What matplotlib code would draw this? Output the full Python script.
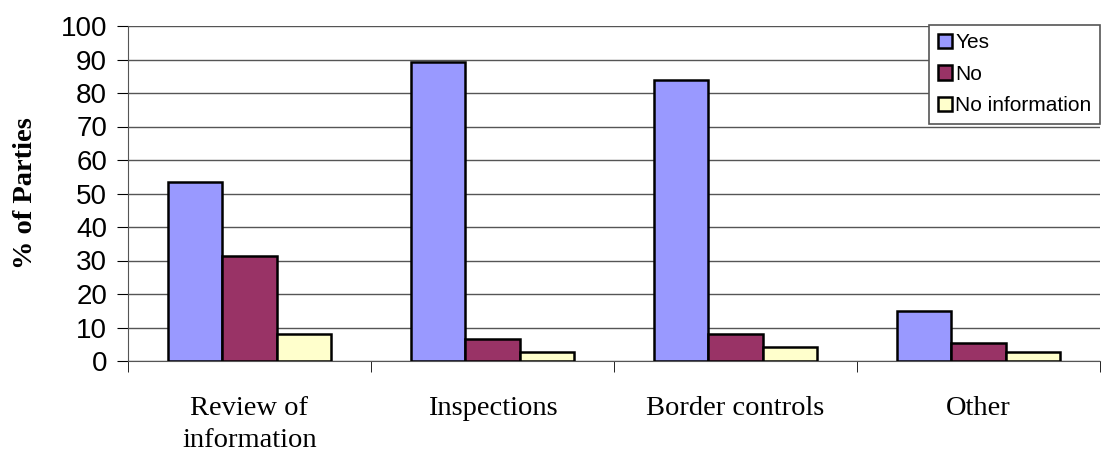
import matplotlib.pyplot as plt
import numpy as np

categories = ["Review of\ninformation", "Inspections", "Border controls", "Other"]
series_names = ["Yes", "No", "No information"]
yes = [53.3, 89.2, 83.8, 14.9]
no = [31.3, 6.7, 8.1, 5.5]
no_info = [8.1, 2.6, 4.1, 2.7]
colors = ["#9999FF", "#993366", "#FFFFCC"]

fig = plt.figure(figsize=(11.07, 4.54), dpi=100)
ax = fig.add_axes([128 / 1107, 93 / 454, (1100 - 128) / 1107, 335 / 454])

x = np.arange(len(categories))
w = 0.223
for k, (vals, name) in enumerate(zip([yes, no, no_info], series_names)):
    ax.bar(x + (k - 1) * w, vals, w, color=colors[k], edgecolor="black",
           linewidth=1.8, label=name, zorder=3)

ax.set_ylim(0, 100)
ax.set_xlim(-0.5, (1100 - 128) / 249 - 0.5)
ax.set_yticks(range(0, 101, 10))
ax.tick_params(axis="y", labelsize=20, length=8, direction="out", pad=7)
for t in ax.get_yticklabels():
    t.set_family("Liberation Sans")
ax.set_xticks(x)
ax.set_xticklabels(categories, family="Liberation Serif", fontsize=20.5,
                   linespacing=1.4)
ax.tick_params(axis="x", length=0, pad=25)
# boundary ticks between categories
ax.set_xticks(np.arange(len(categories) + 1) - 0.5, minor=True)
ax.tick_params(axis="x", which="minor", length=8, direction="out")

ax.grid(axis="y", color="#555555", linewidth=1.0, zorder=0)
for s in ["top", "right"]:
    ax.spines[s].set_visible(False)
ax.spines["left"].set_color("#555555")
ax.spines["bottom"].set_color("#555555")

ax.set_ylabel("% of Parties", family="Liberation Serif", fontweight="bold",
              fontsize=20.5)
ax.yaxis.set_label_coords(-0.093, 0.5)

leg = ax.legend(loc="upper right", bbox_to_anchor=(1100 / 1107, 1 - 25 / 454),
                bbox_transform=fig.transFigure, prop={"family": "Liberation Sans", "size": 15},
                fancybox=False, edgecolor="#555555", framealpha=1,
                handlelength=0.7, handleheight=0.7, handletextpad=0.15,
                labelspacing=0.6, borderpad=0.4, borderaxespad=0)
leg.get_frame().set_linewidth(1.2)

fig.savefig("out.png", dpi=100)
